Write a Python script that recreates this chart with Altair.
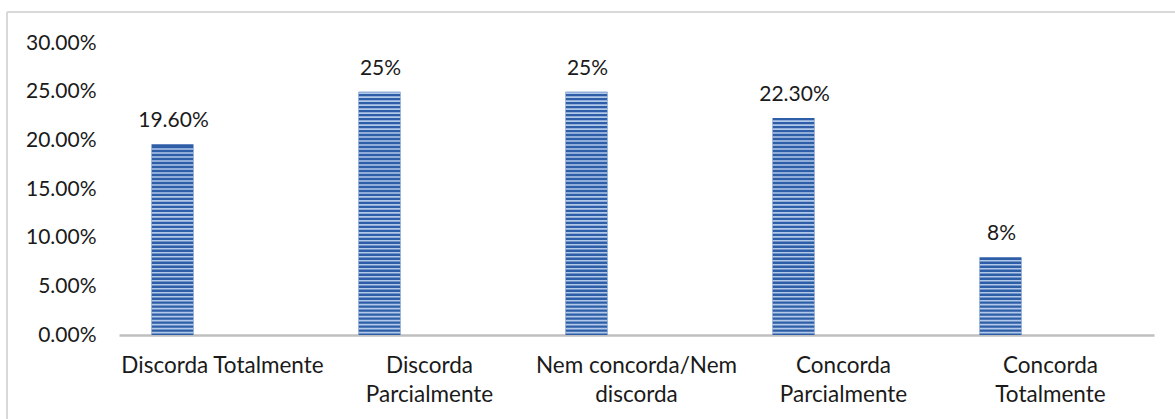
import json
import numpy as np
import pandas as pd
import altair as alt

# Survey answers and their shares
categories = [
    "Discorda Totalmente",
    "Discorda Parcialmente",
    "Nem concorda/Nem discorda",
    "Concorda Parcialmente",
    "Concorda Totalmente",
]
shares = [0.196, 0.25, 0.25, 0.223, 0.08]
value_labels = ["19.60%", "25%", "25%", "22.30%", "8%"]
axis_lines = [
    ["Discorda Totalmente"],
    ["Discorda", "Parcialmente"],
    ["Nem concorda/Nem", "discorda"],
    ["Concorda", "Parcialmente"],
    ["Concorda", "Totalmente"],
]

FONT = "Lato"
TEXT = "#1a1a1a"
BAR_W = 42
BAR_SHIFT = -50

df = pd.DataFrame({"cat": categories, "share": shares, "label": value_labels})

# Light horizontal hatch lines drawn over each bar
STEP = 0.0041
hatch = pd.DataFrame(
    [{"cat": c, "y": y} for c, v in zip(categories, shares)
     for y in np.arange(STEP * 0.6, v - STEP * 0.3, STEP)]
)

# Multi-line category labels
label_expr = ""
for c, lines in zip(categories, axis_lines):
    label_expr += f"datum.value == {json.dumps(c)} ? {json.dumps(lines)} : "
label_expr += "datum.value"

x = alt.X(
    "cat:N",
    sort=categories,
    scale=alt.Scale(paddingInner=0, paddingOuter=0),
    axis=alt.Axis(
        title=None,
        labelAngle=0,
        labelExpr=label_expr,
        labelFont=FONT,
        labelFontSize=22.5,
        labelColor=TEXT,
        labelBaseline="top",
        labelLineHeight=29,
        labelPadding=19,
        ticks=False,
        domainColor="#bfbfbf",
        domainWidth=2.5,
        labelLimit=300,
    ),
)
y = alt.Y(
    "share:Q",
    scale=alt.Scale(domain=[0, 0.30], nice=False),
    axis=alt.Axis(
        title=None,
        values=[0, 0.05, 0.10, 0.15, 0.20, 0.25, 0.30],
        format=".2%",
        labelFont=FONT,
        labelFontSize=21,
        labelColor=TEXT,
        labelPadding=23,
        ticks=False,
        domain=False,
        grid=False,
    ),
)

bars = alt.Chart(df).mark_bar(
    size=BAR_W, xOffset=BAR_SHIFT, color="#2f5ea8"
).encode(x=x, y=y)

stripes = alt.Chart(hatch).mark_tick(
    size=BAR_W, thickness=1.6, xOffset=BAR_SHIFT, color="#b9cdec", opacity=0.95
).encode(x=alt.X("cat:N", sort=categories), y=alt.Y("y:Q"))

texts = alt.Chart(df).mark_text(
    xOffset=BAR_SHIFT + 1, dy=-17, baseline="alphabetic", align="center",
    font=FONT, fontSize=21, color=TEXT,
).encode(x=alt.X("cat:N", sort=categories), y=alt.Y("share:Q"), text="label:N")

one = pd.DataFrame({"k": [0]})
frame_top = alt.Chart(one).mark_rule(color="#d9d9d9", strokeWidth=2).encode(
    x=alt.value(-112), x2=alt.value(1060), y=alt.value(-31)
)
frame_left = alt.Chart(one).mark_rule(color="#d9d9d9", strokeWidth=2).encode(
    x=alt.value(-112), y=alt.value(-31), y2=alt.value(380)
)

chart = (
    alt.layer(frame_top, frame_left, bars, stripes, texts)
    .properties(
        width=1035,
        height=292,
        autosize=alt.AutoSizeParams(type="none"),
        padding={"left": 119, "top": 43, "right": 21, "bottom": 84},
        background="white",
    )
    .configure_view(stroke=None)
)

chart.save("out.html", embed_options={"renderer": "svg", "actions": False})
